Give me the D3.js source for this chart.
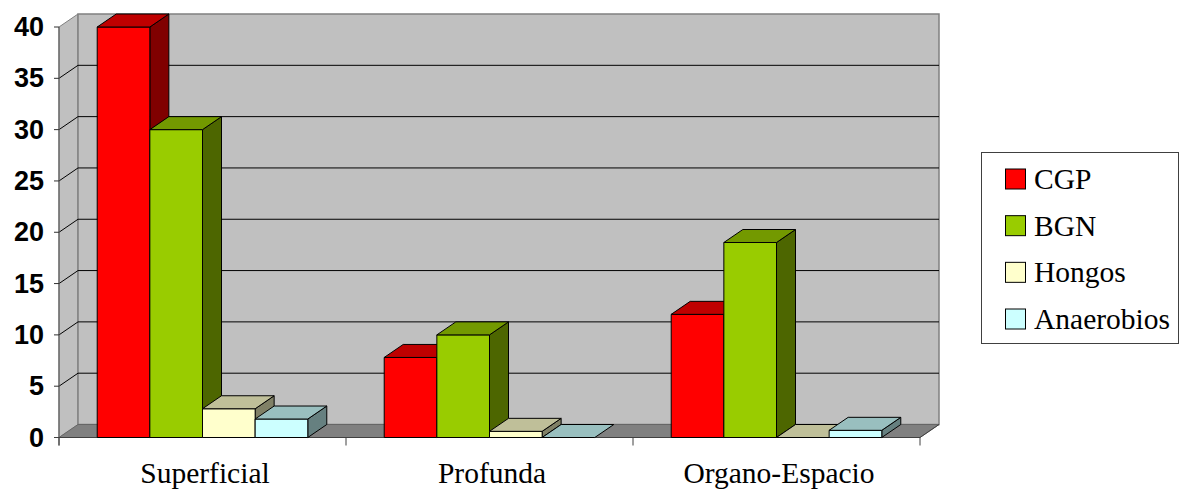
<!DOCTYPE html>
<html>
<head>
<meta charset="utf-8">
<script src="https://cdn.jsdelivr.net/npm/d3@7"></script>
<style>
  html, body { margin: 0; padding: 0; background: #fff; }
  svg { display: block; }
</style>
</head>
<body>
<svg id="chart" width="1180" height="489"></svg>
<script>
// Categories, series and values
const categories = ["Superficial", "Profunda", "Organo-Espacio"];
const seriesNames = ["CGP", "BGN", "Hongos", "Anaerobios"];
const CGP = [40, 7.8, 12];
const BGN = [30, 10, 19];
const Hongos = [2.8, 0.6, 0];
const Anaerobios = [1.8, 0, 0.7];
const yTicks = [0, 5, 10, 15, 20, 25, 30, 35, 40];

const seriesValues = [CGP, BGN, Hongos, Anaerobios];
const seriesColors = ["#FF0000", "#99CC00", "#FFFFCC", "#CCFFFF"];

const svg = d3.select("#chart");

// Plot geometry (front plane) and depth offset of the 3D box
const left = 59, right = 920;
const depthX = 19, depthY = -13;

const y = d3.scaleLinear().domain([0, 40]).range([437.5, 27]);
const x0 = d3.scaleBand().domain(categories).range([left, right]).paddingInner(0).paddingOuter(0);
const x1 = d3.scaleBand().domain(seriesNames).range([0, x0.bandwidth()]).paddingInner(0).paddingOuter(0.726);

const shade = (c, k) => {
  const r = d3.rgb(c);
  return d3.rgb(r.r * k, r.g * k, r.b * k).formatHex();
};
const poly = pts => "M" + pts.map(p => p.join(",")).join("L") + "Z";

const y0 = y(0), yTop = y(40);

// Side wall
svg.append("path")
  .attr("d", poly([[left, y0], [left, yTop], [left + depthX, yTop + depthY], [left + depthX, y0 + depthY]]))
  .attr("fill", "#C0C0C0").attr("stroke", "#808080").attr("stroke-width", 1);

// Back wall
svg.append("path")
  .attr("d", poly([[left + depthX, y0 + depthY], [left + depthX, yTop + depthY], [right + depthX, yTop + depthY], [right + depthX, y0 + depthY]]))
  .attr("fill", "#C0C0C0").attr("stroke", "#808080").attr("stroke-width", 1.5);

// Floor
svg.append("path")
  .attr("d", poly([[left, y0], [left + depthX, y0 + depthY], [right + depthX, y0 + depthY], [right, y0]]))
  .attr("fill", "#808080").attr("stroke", "#606060").attr("stroke-width", 0.8);

// Gridlines on the back wall and their diagonals on the side wall
const gridVals = yTicks.filter(v => v > 0 && v < 40);
svg.append("g").selectAll("path").data(gridVals).join("path")
  .attr("d", v => `M${left},${y(v)}L${left + depthX},${y(v) + depthY}L${right + depthX},${y(v) + depthY}`)
  .attr("fill", "none").attr("stroke", "#000").attr("stroke-width", 1);

// Vertical axis line and ticks
svg.append("line")
  .attr("x1", left).attr("x2", left).attr("y1", yTop).attr("y2", y0 + 8)
  .attr("stroke", "#606060").attr("stroke-width", 1.2);
svg.append("g").selectAll("line").data(yTicks).join("line")
  .attr("x1", left - 5).attr("x2", left).attr("y1", d => y(d)).attr("y2", d => y(d))
  .attr("stroke", "#303030").attr("stroke-width", 1);

// Tick labels
svg.append("g").selectAll("text").data(yTicks).join("text")
  .attr("x", 44).attr("y", d => y(d))
  .attr("text-anchor", "end").attr("dominant-baseline", "central")
  .attr("font-family", "Arial, 'Liberation Sans', sans-serif")
  .attr("font-weight", "bold").attr("font-size", 27).attr("fill", "#000")
  .text(d => d);

// Category axis line, ticks and the floor's right edge
svg.append("line")
  .attr("x1", left - 5).attr("x2", right).attr("y1", y0).attr("y2", y0)
  .attr("stroke", "#404040").attr("stroke-width", 1.2);
const catEdges = [left].concat(categories.map(c => x0(c) + x0.bandwidth()));
svg.append("g").selectAll("line").data(catEdges).join("line")
  .attr("x1", d => d).attr("x2", d => d).attr("y1", y0).attr("y2", y0 + 8)
  .attr("stroke", "#404040").attr("stroke-width", 1);
svg.append("line")
  .attr("x1", right).attr("y1", y0).attr("x2", right + depthX).attr("y2", y0 + depthY)
  .attr("stroke", "#404040").attr("stroke-width", 1);

// Bars: front face, top face and right side face, drawn left to right
const bars = [];
categories.forEach((c, ci) => {
  seriesNames.forEach((s, si) => {
    bars.push({ cat: c, series: s, value: seriesValues[si][ci], color: seriesColors[si] });
  });
});

const bw = x1.bandwidth();
const barG = svg.append("g");
bars.forEach(b => {
  const bx = x0(b.cat) + x1(b.series);
  const by = y(b.value);
  const g = barG.append("g").attr("stroke", "#000").attr("stroke-width", 1).attr("stroke-linejoin", "round");
  if (b.value > 0) {
    g.append("path")
      .attr("d", poly([[bx + bw, y0], [bx + bw, by], [bx + bw + depthX, by + depthY], [bx + bw + depthX, y0 + depthY]]))
      .attr("fill", shade(b.color, 0.5));
    g.append("rect")
      .attr("x", bx).attr("y", by).attr("width", bw).attr("height", y0 - by)
      .attr("fill", b.color);
  }
  g.append("path")
    .attr("d", poly([[bx, by], [bx + depthX, by + depthY], [bx + bw + depthX, by + depthY], [bx + bw, by]]))
    .attr("fill", shade(b.color, 0.75));
});

// Category labels
svg.append("g").selectAll("text").data(categories).join("text")
  .attr("x", d => x0(d) + x0.bandwidth() / 2 + 2.5)
  .attr("y", 483)
  .attr("text-anchor", "middle")
  .attr("font-family", "'Times New Roman', 'Liberation Serif', serif")
  .attr("font-size", 29.5).attr("fill", "#000")
  .text(d => d);

// Legend
const legend = svg.append("g");
legend.append("rect")
  .attr("x", 981.5).attr("y", 152.5).attr("width", 197).attr("height", 191)
  .attr("fill", "#fff").attr("stroke", "#404040").attr("stroke-width", 1);
const rowY = d3.scalePoint().domain(seriesNames).range([179, 319]);
seriesNames.forEach((s, i) => {
  legend.append("rect")
    .attr("x", 1005.5).attr("y", rowY(s) - 10).attr("width", 20).attr("height", 20)
    .attr("fill", seriesColors[i]).attr("stroke", "#000").attr("stroke-width", 1);
  legend.append("text")
    .attr("x", 1034).attr("y", rowY(s) + 10)
    .attr("font-family", "'Times New Roman', 'Liberation Serif', serif")
    .attr("font-size", 29.5).attr("fill", "#000")
    .text(s);
});
</script>
</body>
</html>
